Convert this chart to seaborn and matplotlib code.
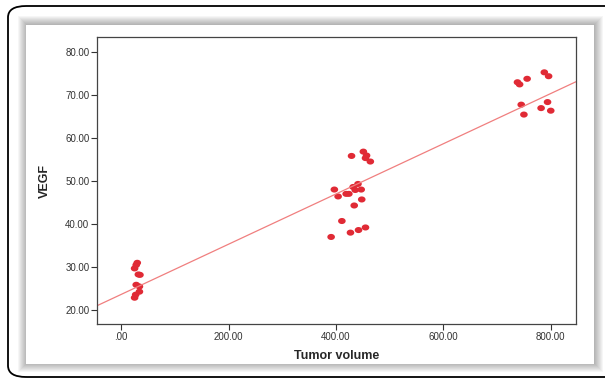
import numpy as np
import pandas as pd
import matplotlib
matplotlib.use("Agg")
import matplotlib.pyplot as plt
from matplotlib.patches import FancyBboxPatch, Rectangle
from matplotlib.path import Path
import seaborn as sns

# ======== DATA =========
tumor_low = [30, 28, 25, 32, 35, 28, 34, 34, 27, 25]
vegf_low = [31.0, 30.5, 29.7, 28.3, 28.2, 25.9, 25.5, 24.3, 23.6, 22.9]

tumor_mid = [397, 404, 419, 424, 429, 432, 436, 441, 447, 434,
             448, 451, 457, 455, 464, 411, 391, 427, 442, 455]
vegf_mid = [48.0, 46.4, 47.0, 47.0, 55.8, 48.6, 47.9, 49.3, 48.0, 44.3,
            45.7, 56.8, 55.9, 55.3, 54.5, 40.7, 37.0, 38.0, 38.6, 39.2]

tumor_high = [738, 742, 756, 788, 796, 745, 750, 782, 794, 800]
vegf_high = [72.9, 72.4, 73.7, 75.2, 74.3, 67.7, 65.4, 66.9, 68.3, 66.3]

xticks = [0, 200, 400, 600, 800]
xticklabels = [".00", "200.00", "400.00", "600.00", "800.00"]
yticks = [20, 30, 40, 50, 60, 70, 80]
yticklabels = ["20.00", "30.00", "40.00", "50.00", "60.00", "70.00", "80.00"]

df = pd.DataFrame({
    "Tumor volume": tumor_low + tumor_mid + tumor_high,
    "VEGF": vegf_low + vegf_mid + vegf_high,
})

# ======== PLOT =========
sns.set_style("white")
plt.rcParams["font.family"] = ["Liberation Sans", "DejaVu Sans"]

fig = plt.figure(figsize=(6.05, 3.8), dpi=100)
W, H = 605, 380

# outer rounded frame
fig.patches.append(FancyBboxPatch((8 / W, 3 / H), 620 / W, 371 / H,
                                  boxstyle="round,pad=0,rounding_size=0.03",
                                  transform=fig.transFigure, fill=False,
                                  edgecolor="black", linewidth=1.3, zorder=0))
# soft shadow around the inner panel
px0, py0, pw, ph = 26, 380 - 364, 568, 339
for off in range(9, 0, -1):
    fig.patches.append(Rectangle(((px0 - off + 1) / W, (py0 - off + 1) / H),
                                 (pw + 2 * off - 1) / W, (ph + 2 * off - 1) / H,
                                 transform=fig.transFigure, facecolor="black",
                                 alpha=0.035, edgecolor="none", zorder=0))
fig.patches.append(Rectangle((px0 / W, py0 / H), pw / W, ph / H,
                             transform=fig.transFigure, facecolor="white",
                             edgecolor="none", zorder=1))

ax = fig.add_axes([97 / W, (380 - 324) / H, (576 - 97) / W, (324 - 37) / H])
ax.set_zorder(2)
ax.set_xlim(-45, 847)
ax.set_ylim(16.8, 83.4)

# slightly wide oval marker like SPSS output
t = np.linspace(0, 2 * np.pi, 40)
oval = Path(np.column_stack([1.25 * np.cos(t), np.sin(t)]), closed=True)

sns.regplot(data=df, x="Tumor volume", y="VEGF", ax=ax, ci=None, truncate=False,
            marker=oval,
            scatter_kws={"s": 30, "color": "#e02a35", "edgecolors": "none",
                         "alpha": 1},
            line_kws={"color": "#f07f7f", "linewidth": 0.9})

ax.set_xticks(xticks)
ax.set_xticklabels(xticklabels)
ax.set_yticks(yticks)
ax.set_yticklabels(yticklabels)
ax.tick_params(axis="both", which="major", labelsize=7, colors="#333333",
               direction="out", length=4, width=0.8, left=True, bottom=True,
               pad=1.5)
for side in ["left", "bottom", "top", "right"]:
    ax.spines[side].set_color("#444444")
    ax.spines[side].set_linewidth(0.9)

ax.set_xlabel("Tumor volume", fontsize=9, fontweight="bold", labelpad=6)
ax.set_ylabel("VEGF", fontsize=9, fontweight="bold", labelpad=10)

fig.savefig("out.png", dpi=100)
plt.close()
